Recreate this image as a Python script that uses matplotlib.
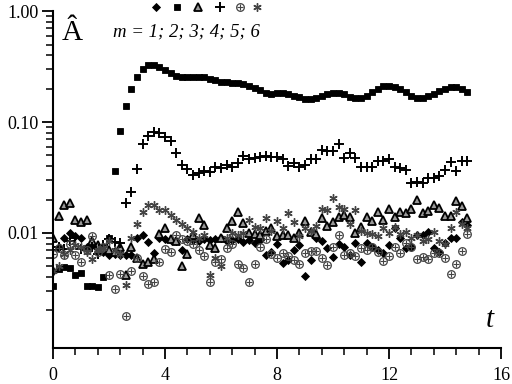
import matplotlib
matplotlib.use("Agg")
import matplotlib.pyplot as plt
from matplotlib.ticker import FixedLocator, MultipleLocator, NullFormatter

# time grid, step 0.2
T = [0.0, 0.2, 0.4, 0.6, 0.8, 1.0, 1.2, 1.4, 1.6, 1.8,
     2.0, 2.2, 2.4, 2.6, 2.8, 3.0, 3.2, 3.4, 3.6, 3.8,
     4.0, 4.2, 4.4, 4.6, 4.8, 5.0, 5.2, 5.4, 5.6, 5.8,
     6.0, 6.2, 6.4, 6.6, 6.8, 7.0, 7.2, 7.4, 7.6, 7.8,
     8.0, 8.2, 8.4, 8.6, 8.8, 9.0, 9.2, 9.4, 9.6, 9.8,
     10.0, 10.2, 10.4, 10.6, 10.8, 11.0, 11.2, 11.4, 11.6, 11.8,
     12.0, 12.2, 12.4, 12.6, 12.8, 13.0, 13.2, 13.4, 13.6, 13.8,
     14.0, 14.2, 14.4, 14.6, 14.8]

# m = 1 (diamonds)
A1 = [0.0045, 0.0075, 0.0091, 0.0100, 0.0093, 0.0090, 0.0075, 0.0078, 0.0073, 0.0067,
      0.0063, 0.0065, 0.0063, 0.0063, 0.0063, 0.0090, 0.0096, 0.0083, 0.0066, 0.0090,
      0.0088, 0.0086, 0.0084, 0.0070, 0.0088, 0.0087, 0.0084, 0.0089, 0.0086, 0.0088,
      0.0090, 0.0084, 0.0087, 0.0088, 0.0083, 0.0086, 0.0081, 0.0086, 0.0063, 0.0068,
      0.0080, 0.0054, 0.0057, 0.0070, 0.0078, 0.0041, 0.0057, 0.0090, 0.0085, 0.0073,
      0.0061, 0.0079, 0.0075, 0.0063, 0.0081, 0.0055, 0.0082, 0.0075, 0.0070, 0.0066,
      0.0078, 0.0110, 0.0090, 0.0073, 0.0075, 0.0096, 0.0096, 0.0102, 0.0073, 0.0068,
      0.0081, 0.0090, 0.0090, 0.0125, 0.0118]

# m = 2 (squares)
A2 = [0.00333, 0.00474, 0.00494, 0.00484, 0.00419, 0.00436, 0.00333, 0.00333, 0.00326, 0.00401,
      0.00902, 0.0362, 0.0830, 0.139, 0.198, 0.254, 0.300, 0.326, 0.326, 0.313,
      0.294, 0.276, 0.260, 0.254, 0.254, 0.254, 0.254, 0.254, 0.244, 0.239,
      0.229, 0.229, 0.225, 0.225, 0.220, 0.211, 0.202, 0.194, 0.183, 0.179,
      0.183, 0.183, 0.179, 0.172, 0.167, 0.162, 0.161, 0.166, 0.173, 0.180,
      0.181, 0.181, 0.180, 0.169, 0.165, 0.165, 0.173, 0.188, 0.198, 0.210,
      0.211, 0.205, 0.198, 0.186, 0.172, 0.164, 0.166, 0.173, 0.179, 0.190,
      0.197, 0.205, 0.207, 0.200, 0.185]

# m = 3 (triangles)
A3 = [0.0090, 0.0142, 0.0180, 0.0185, 0.0131, 0.0125, 0.0131, 0.0084, 0.0078, 0.0072,
      0.0070, 0.0068, 0.0075, 0.0042, 0.0075, 0.0059, 0.0053, 0.0055, 0.0058, 0.0097,
      0.0110, 0.0088, 0.0085, 0.0050, 0.0064, 0.0095, 0.0136, 0.0118, 0.0078, 0.0073,
      0.0090, 0.0110, 0.0129, 0.0154, 0.0122, 0.0100, 0.0098, 0.0095, 0.0105, 0.0110,
      0.0093, 0.0095, 0.0096, 0.0090, 0.0100, 0.0128, 0.0103, 0.0098, 0.0136, 0.0116,
      0.0126, 0.0140, 0.0145, 0.0138, 0.0100, 0.0114, 0.0140, 0.0128, 0.0156, 0.0131,
      0.0164, 0.0140, 0.0156, 0.0150, 0.0164, 0.0198, 0.0150, 0.0158, 0.0179, 0.0167,
      0.0143, 0.0143, 0.0194, 0.0176, 0.0136]

# m = 4 (plus)
A4 = [0.0070, 0.0075, 0.0072, 0.0085, 0.0090, 0.0072, 0.0070, 0.0075, 0.0065, 0.0078,
      0.0088, 0.0083, 0.0082, 0.0186, 0.0234, 0.0377, 0.0633, 0.0748, 0.0813, 0.0796,
      0.0733, 0.0674, 0.0526, 0.0410, 0.0377, 0.0333, 0.0347, 0.0362, 0.0354, 0.0393,
      0.0385, 0.0410, 0.0393, 0.0427, 0.0494, 0.0464, 0.0474, 0.0484, 0.0494, 0.0484,
      0.0484, 0.0464, 0.0401, 0.0427, 0.0393, 0.0410, 0.0464, 0.0464, 0.0559, 0.0548,
      0.0548, 0.0633, 0.0474, 0.0526, 0.0474, 0.0393, 0.0393, 0.0393, 0.0445, 0.0445,
      0.0464, 0.0393, 0.0385, 0.0369, 0.0282, 0.0288, 0.0282, 0.0313, 0.0313, 0.0326,
      0.0369, 0.0436, 0.0362, 0.0445, 0.0445]

# m = 5 (circle-plus)
A5 = [0.0065, 0.0073, 0.0063, 0.0080, 0.0063, 0.0055, 0.0070, 0.0093, 0.0068, 0.0075,
      0.0042, 0.0031, 0.0043, 0.0018, 0.0045, 0.0060, 0.0041, 0.0035, 0.0036, 0.0055,
      0.0072, 0.0068, 0.0096, 0.0088, 0.0085, 0.0080, 0.0070, 0.0062, 0.0036, 0.0055,
      0.0058, 0.0073, 0.0080, 0.0053, 0.0048, 0.0036, 0.0053, 0.0075, 0.0088, 0.0065,
      0.0059, 0.0066, 0.0062, 0.0057, 0.0053, 0.0066, 0.0069, 0.0069, 0.0060, 0.0051,
      0.0074, 0.0096, 0.0063, 0.0066, 0.0062, 0.0073, 0.0070, 0.0075, 0.0068, 0.0056,
      0.0062, 0.0075, 0.0066, 0.0082, 0.0075, 0.0058, 0.0061, 0.0058, 0.0066, 0.0066,
      0.0060, 0.0043, 0.0052, 0.0069, 0.0097]

# m = 6 (asterisks)
A6 = [0.0045, 0.0050, 0.0065, 0.0070, 0.0078, 0.0075, 0.0068, 0.0058, 0.0070, 0.0073,
      0.0085, 0.0070, 0.0065, 0.0034, 0.0090, 0.0120, 0.0153, 0.0180, 0.0180, 0.0160,
      0.0160, 0.0145, 0.0130, 0.0120, 0.0110, 0.0103, 0.0090, 0.0095, 0.0042, 0.0060,
      0.0050, 0.0090, 0.0100, 0.0096, 0.0100, 0.0130, 0.0114, 0.0110, 0.0136, 0.0105,
      0.0128, 0.0110, 0.0150, 0.0126, 0.0093, 0.0110, 0.0105, 0.0115, 0.0164, 0.0160,
      0.0208, 0.0170, 0.0164, 0.0120, 0.0160, 0.0105, 0.0100, 0.0097, 0.0093, 0.0112,
      0.0100, 0.0114, 0.0098, 0.0103, 0.0090, 0.0095, 0.0085, 0.0088, 0.0103, 0.0085,
      0.0080, 0.0112, 0.0156, 0.0120, 0.0110]

Y_TICKS = [0.01, 0.1, 1.0]
Y_LABELS = ["0.01", "0.10", "1.00"]
X_TICKS = [0, 4, 8, 12, 16]

SERIF = ["Liberation Serif", "DejaVu Serif"]
plt.rcParams["font.family"] = SERIF

# marker styles for m = 1..6
STYLES = [
    dict(marker="D", ms=3.8, mfc="black", mec="black", mew=0.6),
    dict(marker="s", ms=4.0, mfc="black", mec="black", mew=0.6),
    dict(marker="^", ms=5.2, mfc="#999999", mec="black", mew=1.3),
    dict(marker="+", ms=6.5, mfc="black", mec="black", mew=1.4),
    dict(marker="o", ms=5.5, mfc="none", mec="#444444", mew=0.9),
    dict(marker=(6, 2, 0), ms=6.0, mfc="#444444", mec="#444444", mew=1.0),
]

fig = plt.figure(figsize=(5.12, 3.84), dpi=100)
ax = fig.add_axes([0.1035, 0.094, 0.875, 0.877])

series = [A1, A2, A3, A4, A5, A6]
for vals, st in zip(series, STYLES):
    ax.plot(T, vals, ls="none", **st)
# cross inside the circles for m = 5
ax.plot(T, A5, ls="none", marker="+", ms=5.0, mec="#444444", mew=0.8)

ax.set_yscale("log")
ax.set_xlim(0, 16)
ax.set_ylim(0.00092, 1.0)

for side in ("top", "right"):
    ax.spines[side].set_visible(False)
ax.spines["left"].set_linewidth(1.5)
ax.spines["bottom"].set_linewidth(1.5)

ax.yaxis.set_major_locator(FixedLocator(Y_TICKS))
ax.set_yticklabels(Y_LABELS)
ax.yaxis.set_minor_formatter(NullFormatter())
ax.xaxis.set_major_locator(FixedLocator(X_TICKS))
ax.xaxis.set_minor_locator(MultipleLocator(0.8))
ax.tick_params(which="major", direction="out", length=8, width=1.3, labelsize=13, pad=2)
ax.tick_params(which="minor", direction="out", length=5, width=1.1)
ax.tick_params(axis="x", which="major", pad=6)

# axis titles placed inside the frame, as in the figure
ax.text(0.02, 0.975, "\u00c2", transform=ax.transAxes, fontsize=21, va="top", ha="left")
ax.text(0.985, 0.045, "t", transform=ax.transAxes, fontsize=21, style="italic",
        va="bottom", ha="right")

# legend: row of markers with caption under it
leg_x = [0.231, 0.276, 0.324, 0.373, 0.417, 0.455]
for lx, st in zip(leg_x, STYLES):
    ax.plot([lx], [1.012], transform=ax.transAxes, clip_on=False, ls="none", **st)
ax.plot([leg_x[4]], [1.012], transform=ax.transAxes, clip_on=False, ls="none",
        marker="+", ms=5.0, mec="#444444", mew=0.8)
ax.text(0.134, 0.938, "m = 1; 2; 3; 4; 5; 6", transform=ax.transAxes, fontsize=13.5,
        style="italic", va="center", ha="left")

fig.savefig("out.png", dpi=100)
